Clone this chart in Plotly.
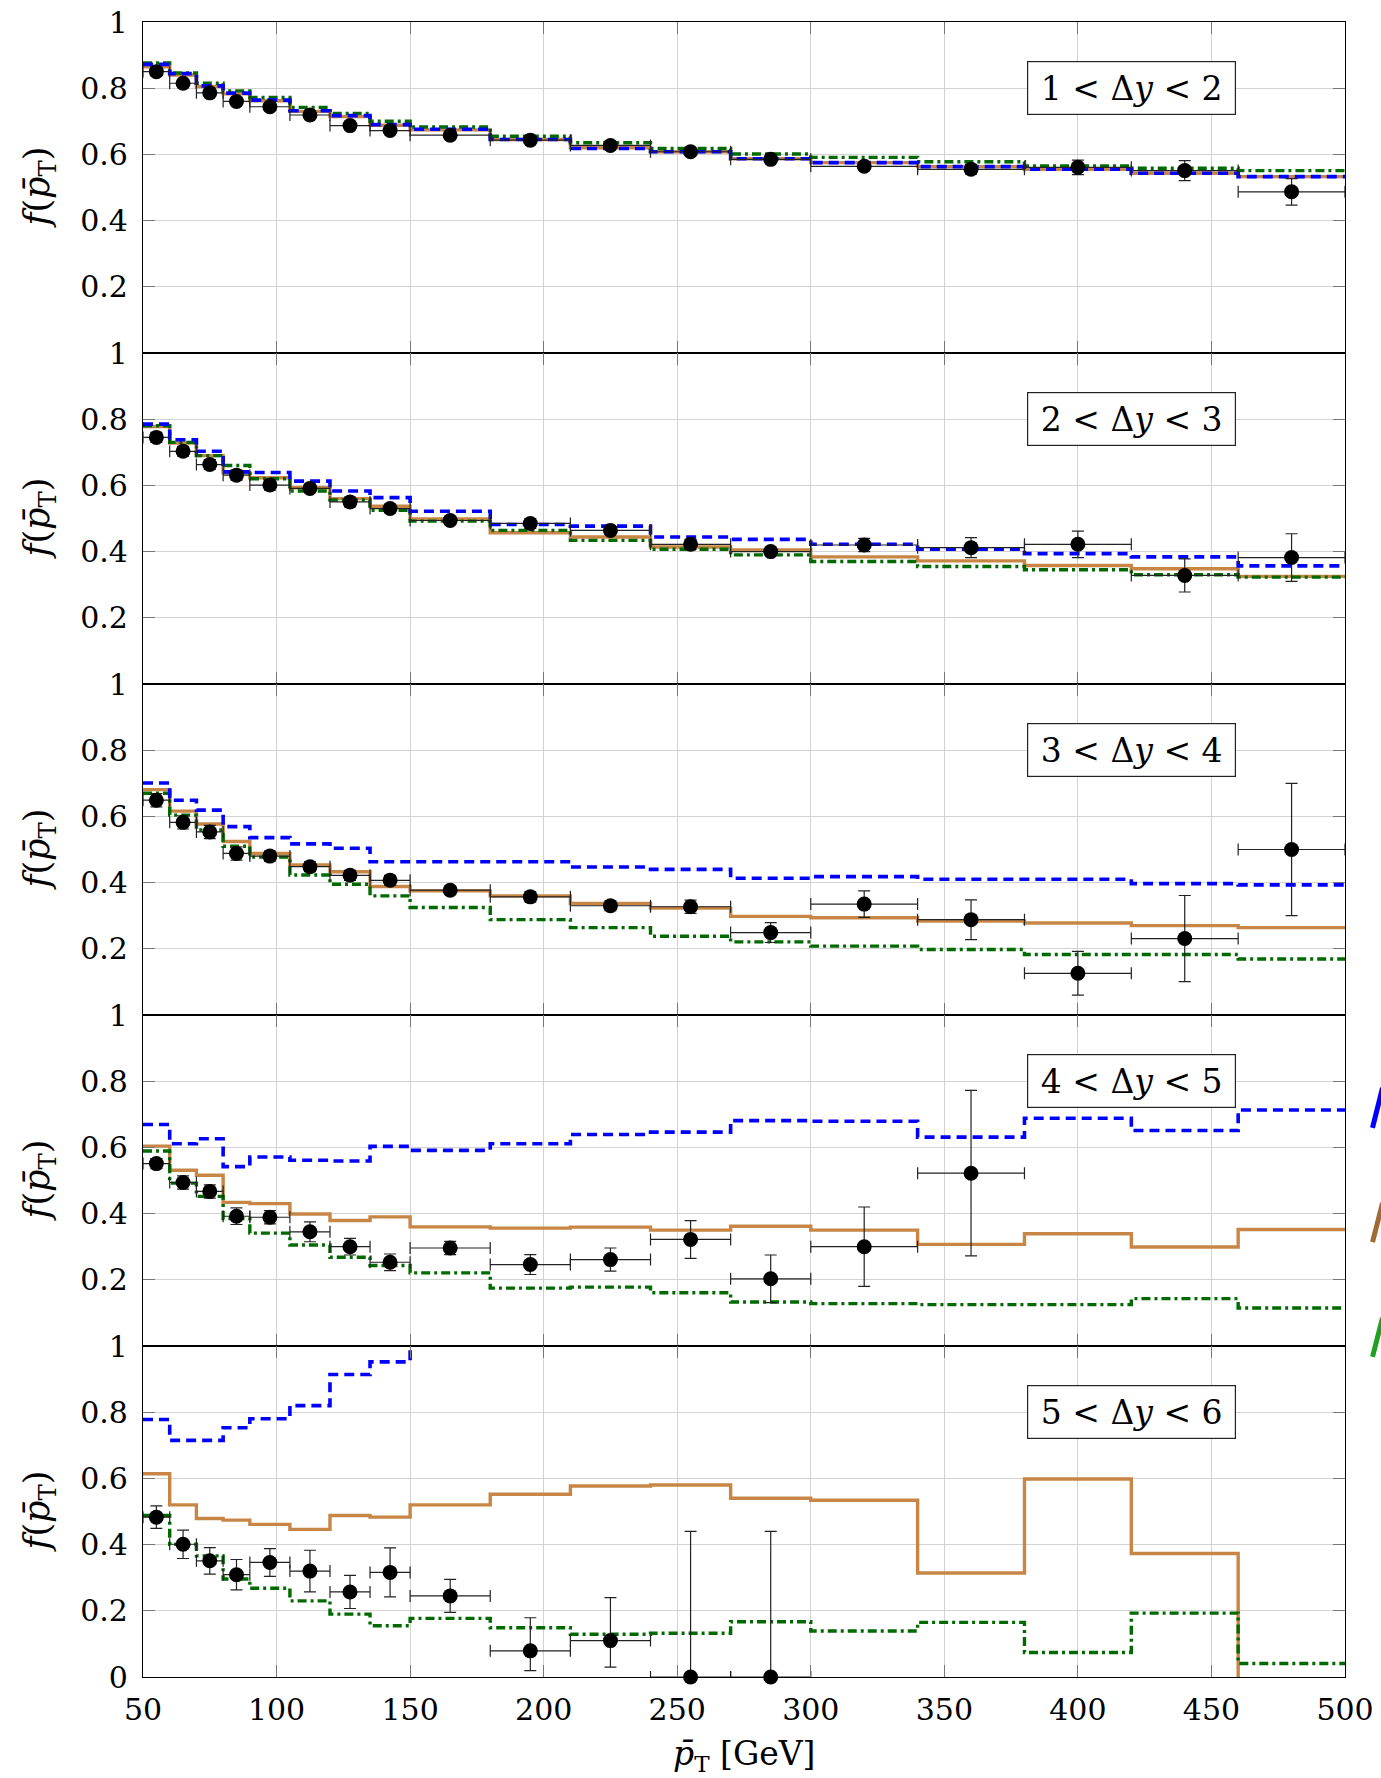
import plotly.graph_objects as go
from plotly.subplots import make_subplots

# ---------------- data ----------------
bin_edges = [50, 60, 70, 80, 90, 105, 120, 135, 150, 180, 210, 240, 270, 300, 340, 380, 420, 460, 500]
bin_centers = [55, 65, 75, 85, 97.5, 112.5, 127.5, 142.5, 165, 195, 225, 255, 285, 320, 360, 400, 440, 480]
bin_halfwidths = [5, 5, 5, 5, 7.5, 7.5, 7.5, 7.5, 15, 15, 15, 15, 15, 20, 20, 20, 20, 20]

panel_labels = ["1 < Δy < 2", "2 < Δy < 3", "3 < Δy < 4", "4 < Δy < 5", "5 < Δy < 6"]
y_tick_vals_upper = [0.2, 0.4, 0.6, 0.8, 1.0]
y_tick_text_upper = ["0.2", "0.4", "0.6", "0.8", "1"]
y_tick_vals_bottom = [0.0, 0.2, 0.4, 0.6, 0.8, 1.0]
y_tick_text_bottom = ["0", "0.2", "0.4", "0.6", "0.8", "1"]
x_tick_vals = [50, 100, 150, 200, 250, 300, 350, 400, 450, 500]

# panel 1: 1 < dy < 2
data_1 = [0.850, 0.815, 0.786, 0.760, 0.744, 0.719, 0.687, 0.672, 0.658, 0.643, 0.627, 0.608, 0.585, 0.564, 0.555, 0.561, 0.551, 0.487]
err_1 = [0.012, 0.010, 0.010, 0.010, 0.010, 0.010, 0.010, 0.010, 0.008, 0.008, 0.008, 0.008, 0.008, 0.010, 0.015, 0.022, 0.030, 0.040]
blue_1 = [0.872, 0.844, 0.807, 0.785, 0.764, 0.732, 0.717, 0.690, 0.676, 0.645, 0.618, 0.608, 0.587, 0.575, 0.563, 0.555, 0.543, 0.533]
orange_1 = [0.865, 0.840, 0.805, 0.783, 0.762, 0.730, 0.714, 0.688, 0.674, 0.645, 0.620, 0.608, 0.587, 0.575, 0.563, 0.555, 0.543, 0.533]
green_1 = [0.876, 0.846, 0.815, 0.792, 0.772, 0.742, 0.724, 0.700, 0.683, 0.655, 0.635, 0.618, 0.601, 0.591, 0.578, 0.565, 0.558, 0.551]

# panel 2: 2 < dy < 3
data_2 = [0.745, 0.703, 0.663, 0.631, 0.601, 0.591, 0.550, 0.530, 0.494, 0.485, 0.464, 0.422, 0.400, 0.420, 0.412, 0.422, 0.328, 0.382]
err_2 = [0.015, 0.015, 0.015, 0.015, 0.015, 0.012, 0.015, 0.012, 0.012, 0.015, 0.010, 0.015, 0.010, 0.020, 0.030, 0.040, 0.050, 0.072]
blue_2 = [0.785, 0.738, 0.703, 0.641, 0.639, 0.613, 0.583, 0.563, 0.522, 0.482, 0.477, 0.444, 0.437, 0.422, 0.407, 0.394, 0.384, 0.357]
orange_2 = [0.778, 0.728, 0.690, 0.638, 0.623, 0.593, 0.560, 0.537, 0.499, 0.457, 0.444, 0.414, 0.405, 0.384, 0.372, 0.358, 0.348, 0.325]
green_2 = [0.780, 0.730, 0.690, 0.660, 0.620, 0.583, 0.556, 0.525, 0.492, 0.464, 0.434, 0.407, 0.390, 0.370, 0.355, 0.345, 0.330, 0.323]

# panel 3: 3 < dy < 4
data_3 = [0.649, 0.582, 0.553, 0.488, 0.480, 0.448, 0.422, 0.407, 0.377, 0.357, 0.330, 0.327, 0.249, 0.335, 0.288, 0.126, 0.231, 0.500]
err_3 = [0.020, 0.020, 0.020, 0.020, 0.015, 0.015, 0.015, 0.015, 0.012, 0.015, 0.015, 0.020, 0.030, 0.040, 0.060, 0.066, 0.130, 0.200]
blue_3 = [0.701, 0.649, 0.619, 0.569, 0.536, 0.517, 0.504, 0.463, 0.463, 0.463, 0.447, 0.440, 0.413, 0.418, 0.410, 0.410, 0.397, 0.393]
orange_3 = [0.681, 0.616, 0.577, 0.524, 0.488, 0.453, 0.433, 0.388, 0.375, 0.360, 0.337, 0.323, 0.298, 0.294, 0.284, 0.278, 0.270, 0.264]
green_3 = [0.670, 0.604, 0.559, 0.510, 0.477, 0.423, 0.395, 0.360, 0.325, 0.288, 0.264, 0.238, 0.221, 0.208, 0.198, 0.183, 0.183, 0.169]

# panel 4: 4 < dy < 5
data_4 = [0.551, 0.494, 0.467, 0.392, 0.389, 0.345, 0.300, 0.253, 0.296, 0.246, 0.261, 0.322, 0.203, 0.300, 0.522]
err_4 = [0.015, 0.020, 0.020, 0.025, 0.020, 0.030, 0.025, 0.025, 0.020, 0.030, 0.035, 0.057, 0.072, 0.120, 0.250]
blue_4 = [0.669, 0.611, 0.626, 0.542, 0.571, 0.561, 0.559, 0.603, 0.591, 0.611, 0.639, 0.646, 0.681, 0.679, 0.631, 0.688, 0.651, 0.713]
orange_4 = [0.604, 0.531, 0.516, 0.434, 0.430, 0.399, 0.379, 0.390, 0.360, 0.356, 0.359, 0.350, 0.362, 0.350, 0.307, 0.339, 0.299, 0.352]
green_4 = [0.589, 0.492, 0.452, 0.385, 0.341, 0.305, 0.268, 0.243, 0.221, 0.175, 0.178, 0.161, 0.133, 0.128, 0.125, 0.125, 0.143, 0.115]

# panel 5: 5 < dy < 6 (values beyond the axis range are off-scale in the original)
data_5 = [0.483, 0.401, 0.351, 0.309, 0.346, 0.320, 0.257, 0.316, 0.245, 0.079, 0.110, 0.0, 0.0]
err_5_plus = [0.034, 0.043, 0.040, 0.046, 0.042, 0.063, 0.050, 0.074, 0.050, 0.100, 0.130, 0.440, 0.440]
err_5_minus = [0.034, 0.043, 0.040, 0.046, 0.042, 0.063, 0.050, 0.074, 0.050, 0.060, 0.080, 0.0, 0.0]
blue_5 = [0.778, 0.715, 0.715, 0.753, 0.780, 0.820, 0.914, 0.952, 1.05, None, None, None, None, None, None, None, None, None]
orange_5 = [0.614, 0.520, 0.479, 0.474, 0.461, 0.446, 0.488, 0.483, 0.520, 0.552, 0.577, 0.580, 0.540, 0.534, 0.314, 0.598, 0.373, -0.03]
green_5 = [0.488, 0.401, 0.366, 0.296, 0.268, 0.230, 0.190, 0.155, 0.177, 0.149, 0.129, 0.132, 0.167, 0.139, 0.165, 0.074, 0.193, 0.041]

panels = [
    dict(data=data_1, plus=err_1, minus=err_1, blue=blue_1, orange=orange_1, green=green_1),
    dict(data=data_2, plus=err_2, minus=err_2, blue=blue_2, orange=orange_2, green=green_2),
    dict(data=data_3, plus=err_3, minus=err_3, blue=blue_3, orange=orange_3, green=green_3),
    dict(data=data_4, plus=err_4, minus=err_4, blue=blue_4, orange=orange_4, green=green_4),
    dict(data=data_5, plus=err_5_plus, minus=err_5_minus, blue=blue_5, orange=orange_5, green=green_5),
]

# ---------------- style ----------------
FONT = "DejaVu Serif"
FS_TICK = 30
FS_TEXT = 33
BLUE = "#0000ff"
ORANGE = "#c88646"
GREEN = "#006a00"

W, H = 1381, 1778
ML, MR, MT, MB = 142.5, 35.5, 21.7, 100.7

fig = make_subplots(rows=5, cols=1, shared_xaxes=True, vertical_spacing=0)

for i, p in enumerate(panels):
    r = i + 1
    for key, color, dash, lw in [("orange", ORANGE, "solid", 3.4),
                                 ("green", GREEN, "9px,4px,3px,4px", 3.4),
                                 ("blue", BLUE, "10px,6px", 3.6)]:
        vals = p[key]
        ys = list(vals) + [vals[-1]]
        fig.add_trace(go.Scatter(x=bin_edges, y=ys, mode="lines",
                                 line=dict(shape="hv", color=color, dash=dash, width=lw),
                                 connectgaps=False, showlegend=False, hoverinfo="skip"),
                      row=r, col=1)
    n = len(p["data"])
    fig.add_trace(go.Scatter(
        x=bin_centers[:n], y=p["data"], mode="markers",
        marker=dict(color="black", size=15, symbol="circle"),
        error_y=dict(type="data", symmetric=False, array=p["plus"], arrayminus=p["minus"],
                     color="#222222", thickness=1.2, width=6),
        error_x=dict(type="data", array=bin_halfwidths[:n], color="#222222", thickness=1.2, width=6),
        cliponaxis=False, showlegend=False), row=r, col=1)

    yref = "y" if r == 1 else f"y{r}"
    xref = "x" if r == 1 else f"x{r}"
    fig.add_annotation(x=420, y=0.8, xref=xref, yref=yref,
                       text=panel_labels[i].replace("<", "&lt;").replace("Δy", "Δ<i>y</i>"),
                       showarrow=False, font=dict(family=FONT, size=FS_TEXT, color="black"),
                       bgcolor="white", bordercolor="#222222", borderwidth=1.2, borderpad=2,
                       width=203, height=48, align="center", xanchor="center", yanchor="middle")
    # y-axis title per panel
    fig.add_annotation(x=0, y=0.5, xref="paper", yref=f"{yref} domain", xshift=-104,
                       text="<i>f</i>(<i>p\u0304</i><sub>T</sub>)", textangle=-90,
                       showarrow=False, font=dict(family=FONT, size=35, color="black"),
                       xanchor="center", yanchor="middle")

    bottom = (r == 5)
    fig.update_yaxes(row=r, col=1, range=[0, 1],
                     tickvals=y_tick_vals_bottom if bottom else y_tick_vals_upper,
                     ticktext=y_tick_text_bottom if bottom else y_tick_text_upper,
                     ticks="inside", ticklen=12, tickcolor="#777777", tickwidth=1,
                     showline=True, linecolor="black", linewidth=1.2, mirror="ticks",
                     showgrid=True, gridcolor="#d2d2d2", gridwidth=1, zeroline=False,
                     tickfont=dict(family=FONT, size=FS_TICK, color="black"), ticklabelstandoff=8)
    fig.update_xaxes(row=r, col=1, range=[50, 500], tickvals=x_tick_vals,
                     ticktext=[str(v) for v in x_tick_vals],
                     ticks="inside", ticklen=12, tickcolor="#777777", tickwidth=1,
                     showline=True, linecolor="black", linewidth=1.2, mirror="ticks",
                     showgrid=True, gridcolor="#d2d2d2", gridwidth=1, zeroline=False,
                     showticklabels=bottom,
                     tickfont=dict(family=FONT, size=FS_TICK, color="black"), ticklabelstandoff=6)

# x-axis title
fig.add_annotation(x=0.5, y=0, xref="paper", yref="paper", yshift=-78,
                   text="<i>p\u0304</i><sub>T</sub> [GeV]", showarrow=False,
                   font=dict(family=FONT, size=FS_TEXT, color="black"),
                   xanchor="center", yanchor="middle")

# partially visible legend strokes at the right edge
for y0, y1, col in [(0.3318, 0.3560, "#0000ff"), (0.2628, 0.2864, "#a06a35"), (0.1934, 0.2170, "#22a022")]:
    fig.add_shape(type="line", xref="paper", yref="paper", x0=1.0229, y0=y0, x1=1.0312, y1=y1,
                  line=dict(color=col, width=5))

fig.update_layout(width=W, height=H, margin=dict(l=ML, r=MR, t=MT, b=MB, autoexpand=False),
                  plot_bgcolor="white", paper_bgcolor="white", showlegend=False,
                  font=dict(family=FONT, size=FS_TEXT, color="black"))

fig.write_html("out.html")
